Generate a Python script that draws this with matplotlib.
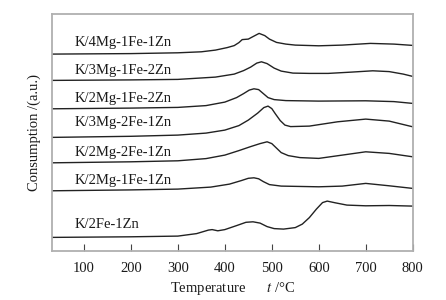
import matplotlib.pyplot as plt
import numpy as np

plt.rcParams['font.family'] = ['Liberation Serif', 'DejaVu Serif']
plt.rcParams['mathtext.fontset'] = 'stix'

# Temperature (deg C) and signal (a.u., stacked with offset)
labels = ['K/4Mg-1Fe-1Zn', 'K/3Mg-1Fe-2Zn', 'K/2Mg-1Fe-2Zn', 'K/3Mg-2Fe-1Zn',
          'K/2Mg-2Fe-1Zn', 'K/2Mg-1Fe-1Zn', 'K/2Fe-1Zn']

t1 = [30, 200, 300, 350, 380, 405, 420, 430, 437, 450, 460, 473, 485, 495, 510, 530, 550, 600, 650, 710, 760, 800]
y1 = [246, 246.5, 247.3, 248.3, 250, 252.5, 254.5, 257.5, 260.5, 261, 263.5, 266.7, 264.5, 261, 257.7, 256, 255, 254.3, 255, 256.7, 256, 254.7]

t2 = [30, 200, 300, 380, 420, 440, 455, 468, 478, 490, 505, 520, 545, 580, 620, 670, 715, 750, 780, 800]
y2 = [219.7, 220.2, 220.7, 223, 226, 229.5, 233, 237, 238.3, 236.5, 232, 229, 227, 226.7, 226.7, 228, 229.3, 228.5, 226, 223.7]

t3 = [30, 200, 300, 360, 400, 425, 440, 452, 462, 472, 482, 492, 505, 530, 600, 700, 760, 800]
y3 = [191.3, 192, 192.7, 194.5, 198, 202.5, 206.5, 210, 211.3, 210.5, 206.5, 202.5, 200.5, 199.5, 199, 199.3, 198.5, 196.7]

t4 = [30, 200, 300, 360, 400, 430, 450, 470, 483, 492, 500, 508, 518, 528, 540, 580, 640, 700, 750, 800]
y4 = [162.7, 163.8, 165, 167, 170, 174.5, 180, 187, 192.5, 194, 191.5, 186, 179.5, 175, 173.5, 174, 178.3, 181, 179, 173.3]

t5 = [35, 200, 300, 360, 400, 430, 455, 475, 490, 500, 510, 520, 535, 560, 600, 650, 700, 750, 800]
y5 = [137.3, 138.3, 139.3, 141.5, 145, 149.5, 153.5, 156.5, 158.3, 156.5, 152, 147.5, 144.5, 142.5, 141.7, 145, 148.3, 146.7, 143.3]

t6 = [30, 200, 300, 370, 410, 435, 450, 462, 472, 482, 495, 520, 600, 650, 700, 750, 800]
y6 = [109.3, 110.2, 111, 113, 116, 119.5, 121.8, 122.3, 121.3, 118.5, 115.5, 114, 113.3, 114, 116.7, 114.3, 111.7]

t7 = [30, 200, 300, 340, 365, 373, 385, 400, 425, 445, 460, 475, 490, 505, 525, 550, 565, 580, 595, 608, 618, 635, 660, 700, 750, 800]
y7 = [62.7, 63.3, 64, 66.5, 70, 70.5, 69.3, 70.5, 74.5, 77.8, 78.3, 77, 73.5, 71.5, 71, 72.5, 76, 82.5, 91, 97.5, 99, 97.3, 95, 94.3, 94.6, 94]

series = [(t1, y1), (t2, y2), (t3, y3), (t4, y4), (t5, y5), (t6, y6), (t7, y7)]
label_y = [258, 230, 202, 177.3, 148, 120, 76]

xticks = [100, 200, 300, 400, 500, 600, 700, 800]

fig = plt.figure(figsize=(4.46, 3.0), dpi=100)
ax = fig.add_axes([0.1166, 0.164, 0.8087, 0.789])

for (t, y), lab, ly in zip(series, labels, label_y):
    ax.plot(t, y, color='#222222', lw=1.0)
    ax.text(80, ly, lab, fontsize=10.5, va='center', ha='left', color='#1a1a1a')

ax.set_xlim(32, 800)
ax.set_ylim(49.3, 286)
ax.set_xticks(xticks)
ax.set_yticks([])
ax.tick_params(axis='x', direction='in', length=5, width=0.8, color='#444444',
               labelsize=10.5, pad=8, labelcolor='#1a1a1a')
for sp in ax.spines.values():
    sp.set_color('#b0b0b0')
    sp.set_linewidth(1.3)

ax.set_xlabel(r'Temperature      $t$ /°C', fontsize=10.5, labelpad=4, color='#1a1a1a')
ax.set_ylabel('Consumption /(a.u.)', fontsize=10.5, labelpad=8, color='#1a1a1a')

fig.savefig('out.png', dpi=100)
